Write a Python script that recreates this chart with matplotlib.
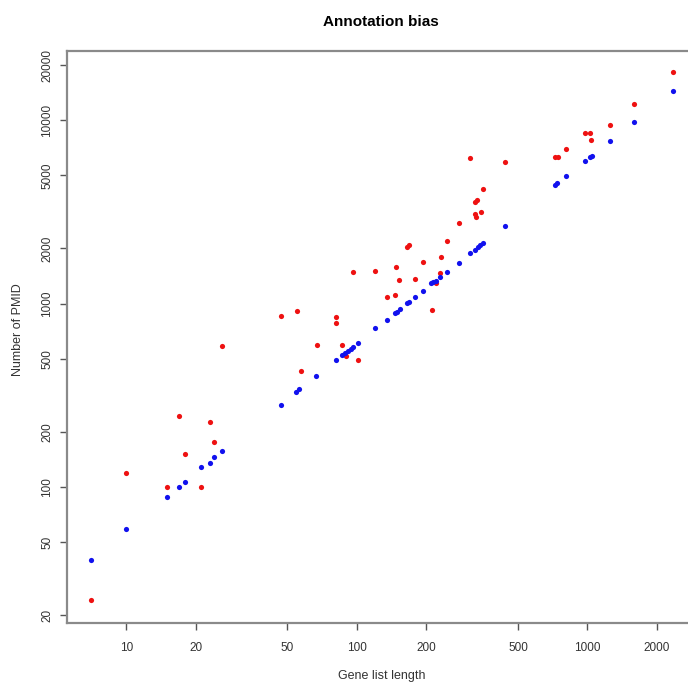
import numpy as np
import matplotlib
matplotlib.use("Agg")
import matplotlib.pyplot as plt
from matplotlib.ticker import FixedLocator, NullLocator, FixedFormatter

plt.rcParams['font.family'] = ['Liberation Sans', 'DejaVu Sans']

# red series (gene list length, number of PMID)
red_len = [7, 10, 17, 23, 24, 18, 15, 21, 26, 47, 55, 57, 67, 81, 81, 86, 90, 101,
           96, 120, 148, 153, 135, 146, 165, 169, 179, 194, 211, 220, 229, 231, 245,
           278, 327, 329, 346, 327, 332, 354, 311, 438, 725, 744, 808, 974, 1027,
           1041, 1258, 1600, 2354]
red_pmid = [24, 119, 245, 226, 175, 151, 100, 100, 590, 860, 915, 427, 595, 840, 780,
            595, 520, 490, 1490, 1500, 1590, 1350, 1090, 1110, 2040, 2100, 1370, 1690,
            920, 1290, 1460, 1790, 2200, 2760, 3070, 2980, 3150, 3570, 3660, 4200,
            6200, 5940, 6280, 6280, 6950, 8550, 8550, 7800, 9460, 12270, 18270]

# blue series
blue_len = [7, 10, 15, 17, 18, 21, 23, 24, 26, 47, 54.5, 56, 66.5, 81, 86, 89, 92, 94,
            96, 101, 120, 135, 146, 149, 154, 165, 169, 179, 194, 210, 215, 220, 230,
            245, 278, 310, 326, 334, 342, 354, 438, 725, 741, 808, 977, 1027, 1045,
            1258, 1600, 2354]
blue_pmid = [40, 59, 88, 100, 107, 128, 135, 145, 156, 281, 330, 342, 403, 492, 522,
             540, 553, 565, 577, 612, 738, 814, 885, 900, 934, 1003, 1016, 1090, 1171,
             1290, 1306, 1333, 1402, 1487, 1665, 1881, 1968, 2028, 2087, 2149, 2650,
             4420, 4550, 4950, 5970, 6280, 6360, 7710, 9750, 14440]

xticks = [10, 20, 50, 100, 200, 500, 1000, 2000]
yticks = [20, 50, 100, 200, 500, 1000, 2000, 5000, 10000, 20000]

W, H = 688, 682
fig = plt.figure(figsize=(W / 100, H / 100), dpi=100)
left, right, top, bottom = 67, 695, 51, 623
ax = fig.add_axes([left / W, (H - bottom) / H, (right - left) / W, (bottom - top) / H])

ax.scatter(red_len, red_pmid, s=14, color="#ee1111", linewidths=0, zorder=3)
ax.scatter(blue_len, blue_pmid, s=14, color="#1111ee", linewidths=0, zorder=4)

ax.set_xscale("log")
ax.set_yscale("log")
ax.set_xlim(5.53, 2932)
ax.set_ylim(18.09, 23880)

ax.xaxis.set_major_locator(FixedLocator(xticks))
ax.xaxis.set_major_formatter(FixedFormatter([str(t) for t in xticks]))
ax.yaxis.set_major_locator(FixedLocator(yticks))
ax.yaxis.set_major_formatter(FixedFormatter([str(t) for t in yticks]))
ax.xaxis.set_minor_locator(NullLocator())
ax.yaxis.set_minor_locator(NullLocator())

gray = "#8a8a8a"
for sp in ax.spines.values():
    sp.set_color(gray)
    sp.set_linewidth(1.6)
ax.tick_params(axis="both", direction="out", length=5, width=1, color="#555555",
               labelsize=8.5, labelcolor="#333333")
ax.tick_params(axis="x", pad=9)
ax.tick_params(axis="y", pad=5)
for lab in ax.get_yticklabels():
    lab.set_rotation(90)
    lab.set_va("center")

fig.text(381 / W, 1 - 22 / H, "Annotation bias", ha="center", va="center",
         fontsize=11, fontweight="bold")
fig.text(382 / W, 1 - 676 / H, "Gene list length", ha="center", va="center",
         fontsize=9, color="#333333")
fig.text(18 / W, 1 - 330 / H, "Number of PMID", ha="center", va="center",
         rotation=90, fontsize=9, color="#333333")

fig.savefig("out.png", dpi=100)
